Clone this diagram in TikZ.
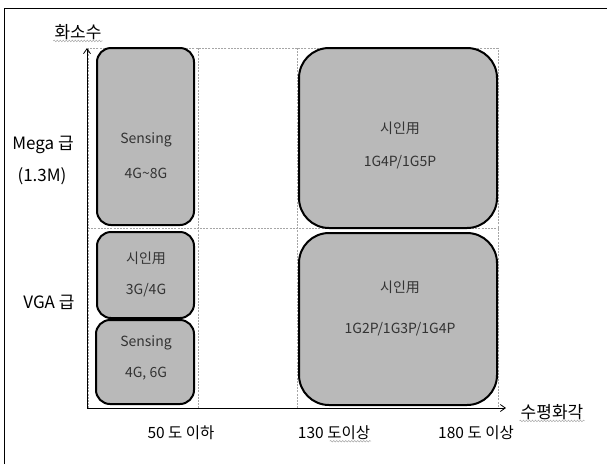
\documentclass[tikz,border=0pt]{standalone}
\usepackage{fontspec}
\setmainfont{Noto Sans CJK KR}
\usetikzlibrary{arrows.meta,decorations.pathmorphing}
\begin{document}
\begin{tikzpicture}[x=1pt,y=-1pt,
  cell/.style={draw=black,line width=2pt,fill=gray!55,rounded corners=#1},
  cell/.default=14pt,
  intext/.style={font=\fontsize{14}{16}\selectfont,text=black!80},
  lab/.style={font=\fontsize{17}{19}\selectfont,inner sep=1pt},
  blab/.style={font=\fontsize{15.5}{18}\selectfont,inner sep=1pt},
  grid/.style={draw=gray!70,dash pattern=on 2pt off 1.2pt,line width=0.5pt},
  squig/.style={draw=gray!70,line width=0.5pt,decorate,decoration={snake,amplitude=0.8pt,segment length=3pt}}]
\useasboundingbox (0,0) rectangle (607,464);
% frame
\draw[line width=0.8pt] (4,464) -- (4,8) -- (607,8);
% dashed grid
\draw[grid] (88,48) rectangle (498,408);
\draw[grid] (198,48) -- (198,408);
\draw[grid] (297,48) -- (297,408);
\draw[grid] (88,228) -- (498,228);
% boxes
\draw[cell] (97,48) rectangle (194,225);
\draw[cell] (97,232) rectangle (194,318);
\draw[cell] (96,320) rectangle (194,404);
\draw[cell=30pt] (299,48) rectangle (497,228);
\draw[cell=30pt] (299,233) rectangle (497,405);
% box texts
\node[intext] (t1a) at (146,140) {Sensing};
\node[intext] (t1b) at (146,173) {4G\textasciitilde 8G};
\node[intext] (t2a) at (146,258) {시인用};
\node[intext] (t2b) at (146,290) {3G/4G};
\node[intext] (t3a) at (146,343) {Sensing};
\node[intext] (t3b) at (146,374) {4G, 6G};
\node[intext] (t4a) at (400,128) {시인用};
\node[intext] (t4b) at (400,162) {1G4P/1G5P};
\node[intext] (t5a) at (400,287) {시인用};
\node[intext] (t5b) at (400,329) {1G2P/1G3P/1G4P};
% axes
\coordinate (o) at (87,408);
\coordinate (ytop) at (87,48);
\coordinate (xend) at (506,408);
\draw[line width=0.8pt,-{Straight Barb[length=5pt,width=7pt]}] (o) -- (ytop);
\draw[line width=0.8pt,-{Straight Barb[length=5pt,width=7pt]}] (o) -- (xend);
% axis labels
\node[lab] (ylab) at (78,32) {화소수};
\draw[squig] (ylab.south west) -- (ylab.south east);
\node[lab] (xlab) at (552,412) {수평화각};
\draw[squig] (xlab.south west) -- (xlab.south east);
\node[lab] (mega) at (43,145) {Mega 급};
\node[lab] (megam) at (42,176) {(1.3M)};
\node[lab] (vga) at (49,302) {VGA 급};
\node[blab] (b1) at (181,433) {50 도 이하};
\node[blab] (b2) at (334,433) {130 도이상};
\node[blab] (b3) at (476,433) {180 도 이상};
\draw[squig] ([xshift=33pt]b2.south west) -- (b2.south east);
\end{tikzpicture}
\end{document}
